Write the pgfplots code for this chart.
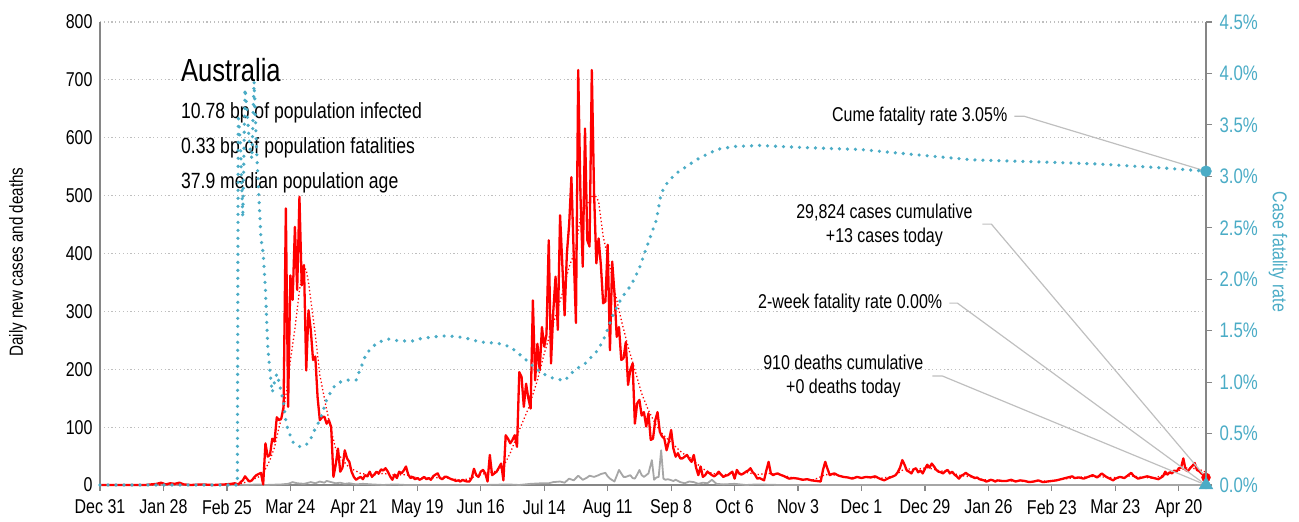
\documentclass[border=0pt]{standalone}
\usepackage{fontspec}
\setmainfont[FakeStretch=0.8]{Liberation Sans}
\usepackage{pgfplots}
\pgfplotsset{compat=1.18}
\definecolor{cfr}{HTML}{4BACC6}
\definecolor{axgray}{HTML}{868686}
\definecolor{gridgray}{HTML}{BFBFBF}
\definecolor{dgray}{HTML}{A6A6A6}
\definecolor{anngray}{HTML}{BFBFBF}
\newcommand\fs{\fontsize{20}{24}\selectfont}
\begin{document}
\begin{tikzpicture}
\useasboundingbox (0,0) rectangle (1299pt,522pt);
\begin{axis}[
  at={(100pt,37pt)}, anchor=south west,
  width=1106pt, height=463pt, scale only axis,
  xmin=0, xmax=488, ymin=0, ymax=800,
  axis x line*=bottom, axis y line*=left,
  axis line style={axgray, line width=1.2pt, -},
  xtick={0,28,56,84,112,140,168,196,224,252,280,308,336,364,392,420,448,476},
  xticklabels={Dec 31,Jan 28,Feb 25,Mar 24,Apr 21,May 19,Jun 16,Jul 14,Aug 11,Sep 8,Oct 6,Nov 3,Dec 1,Dec 29,Jan 26,Feb 23,Mar 23,Apr 20},
  ytick={0,100,200,300,400,500,600,700,800},
  ymajorgrids, grid style={gridgray, line width=1.2pt, dash pattern=on 1.2pt off 2.6pt},
  tick align=outside,
  x tick style={axgray, line width=1.2pt}, major tick length=6pt,
  y tick style={draw=none},
  tick label style={font=\fs, black},
  xticklabel style={yshift=-5pt},
  yticklabel style={xshift=2pt},
  /pgf/number format/assume math mode=true,
  clip=false,
]
% deaths
\addplot[dgray, line width=1.8pt, line join=round] coordinates {
(0,0)(60,0)(61,1)(64,0)(70,1)(73,0)(80,1)(83,2)(85,5)(87,3)(90,2)(93,5)(95,3)(97,6)(99,4)(100,7)(102,5)(104,3)(106,4)(108,2)(110,3)(113,1)(116,2)(120,1)(125,0)(130,1)(135,0)(170,0)(180,1)(185,0)(190,2)(195,3)(198,3)(200,5)(203,6)(205,4)(207,11)(209,8)(211,16)(213,9)(215,13)(216,16)(218,14)(220,17)(221,19)(223,21)(224,15)(225,11)(227,6)(229,26)(231,14)(232,14)(234,17)(235,12)(236,11)(237,18)(238,26)(239,17)(240,14)(241,17)(242,20)(243.5,43)(244.5,9)(245.5,13)(246.5,14)(247.6,60)(248.6,11)(249.5,9)(250.5,10)(251.5,9)(253,7)(254,9)(256,5)(258,3)(260,6)(262,5)(264,2)(266,4)(268,3)(270,9)(272,2)(275,1)(280,2)(285,0)(290,1)(300,0)(488,0)};
% 7-day average
\addplot[red, line width=1.3pt, dash pattern=on 1.3pt off 2.4pt] coordinates {
(0,0)(55,0.5)(62,2)(66,7)(70,14)(72,20)(75,43)(77,65)(79,100)(81,129)(83,180)(84,215)(86,270)(88,336)(89,360)(90,375)(91,372)(92,350)(93,320)(95,260)(97,190)(99,150)(100,130)(102,95)(104,62)(107,43)(110,30)(115,20)(120,17)(125,20)(130,17)(135,18)(140,12)(145,12)(150,13)(155,11)(160,8)(165,14)(170,20)(175,24)(178,32)(181,55)(185,95)(189,132)(193,181)(196,227)(200,279)(204,331)(207,377)(210,409)(212,465)(215,486)(218,504)(220,490)(222,430)(225,377)(227,337)(230,285)(233,239)(236,199)(239,158)(242,129)(245,106)(248,89)(251,77)(254,66)(257,55)(260,48)(263,38)(266,28)(270,20)(275,18)(280,18)(285,22)(290,18)(295,20)(300,18)(305,13)(310,10)(315,9)(320,18)(325,17)(330,13)(335,13)(340,13)(345,12)(350,15)(355,28)(360,27)(365,30)(370,25)(375,22)(380,16)(385,14)(390,9)(395,8)(400,7)(410,6)(420,7)(425,10)(430,13)(440,15)(445,13)(450,13)(455,16)(460,13)(465,12)(470,18)(475,24)(480,30)(485,27)(488,22)};
% daily cases
\addplot[red, line width=2.3pt, line join=round] coordinates {
(0,0)(20,0)(25,2)(27,4)(29,1)(31,3)(33,2)(35,4)(37,1)(40,0)(45,1)(50,0)(55,1)(58,2)(59.5,3)(61,1)(62,5)(63,8)(64,15)(65,10)(66,6)(67,8)(68,13)(69,17)(70,19)(71,21)(72,1)(73,72)(74,49)(75,52)(76,80)(77,75)(78,117)(79,112)(80,115)(81,135)(82,478)(83,135)(84,362)(85,320)(86,446)(87,337)(88,498)(89,345)(90,380)(91,198)(92,302)(93,268)(94,216)(95,222)(96,152)(97,112)(98,117)(99,118)(100,106)(101,112)(102,100)(103,14)(104,35)(105,63)(106,23)(107,30)(108,60)(109,46)(110,40)(111,23)(112,14)(113,9)(114,12)(115,14)(116,10)(117,17)(118,15)(119,23)(120,14)(121,18)(122,23)(123,20)(124,27)(125,25)(126,29)(127,23)(128,15)(129,9)(130,18)(131,12)(132,23)(133,20)(134,25)(135,32)(136,18)(137,12)(138,14)(139,10)(140,12)(141,9)(142,11)(143,14)(144,10)(145,12)(146,9)(147,15)(148,18)(149,20)(150,12)(151,10)(152,14)(153,14)(154,12)(155,10)(156,9)(157,7)(158,8)(159,6)(160,9)(161,7)(162,6)(163,6)(164,12)(165,28)(166,17)(167,14)(168,23)(169,26)(170,20)(171,6)(172,52)(173,17)(174,20)(175,23)(176,30)(177,37)(178,8)(179,86)(180,80)(181,72)(182,78)(183,86)(184,66)(185,195)(186,187)(187,135)(188,175)(189,150)(190,132)(191,319)(192,181)(193,244)(194,198)(195,273)(196,239)(197,260)(198,423)(199,210)(200,300)(201,360)(202,268)(203,466)(204,380)(205,293)(206,400)(207,450)(208,532)(209,400)(210,280)(211,717)(212,500)(213,377)(214,616)(215,423)(216,412)(217,717)(218,504)(219,383)(220,426)(221,380)(222,314)(223,317)(224,415)(225,233)(226,386)(227,331)(228,256)(229,273)(230,216)(231,219)(232,247)(233,173)(234,199)(235,210)(236,106)(237,141)(238,147)(239,120)(240,126)(241,101)(242,124)(243,78)(244,80)(245,112)(246,126)(247,92)(248,84)(249,80)(250,60)(251,75)(252,95)(253,63)(254,49)(255,55)(256,46)(257,46)(258,49)(259,52)(260,45)(261,40)(262,52)(263,30)(264,17)(265,32)(266,14)(267,17)(268,23)(269,20)(270,17)(271,15)(272,18)(273,23)(274,18)(275,14)(276,16)(277,17)(278,20)(279,23)(280,11)(281,26)(282,20)(283,18)(284,20)(285,23)(286,25)(287,29)(288,22)(289,18)(290,11)(291,12)(292,10)(293,8)(294,25)(295,40)(296,20)(297,17)(298,19)(299,20)(300,18)(302,15)(304,11)(306,12)(308,11)(310,9)(312,10)(314,8)(316,7)(318,6)(319,26)(320,40)(321,28)(322,17)(323,19)(324,20)(326,16)(328,14)(330,13)(332,11)(334,14)(336,12)(338,14)(340,13)(342,15)(344,11)(346,8)(348,12)(350,15)(351,17)(352,22)(353,30)(354,43)(355,35)(356,25)(357,23)(358,20)(359,27)(360,29)(361,22)(362,25)(363,20)(364,28)(365,35)(366,30)(367,37)(368,32)(369,26)(370,23)(371,22)(372,20)(373,24)(374,26)(375,20)(376,23)(377,18)(378,15)(379,11)(380,16)(381,18)(382,21)(383,18)(384,16)(385,14)(386,12)(387,13)(388,10)(389,9)(390,8)(391,6)(392,7)(393,9)(394,8)(395,6)(396,8)(398,7)(400,7)(402,9)(404,6)(406,8)(408,7)(410,5)(412,6)(414,8)(416,5)(418,6)(420,7)(422,8)(424,10)(426,12)(428,14)(429,15)(430,12)(432,13)(434,11)(436,14)(438,17)(440,13)(442,20)(444,14)(446,10)(447,8)(448,11)(450,14)(452,12)(454,18)(455,21)(456,16)(458,11)(460,13)(462,15)(463,14)(465,12)(467,10)(469,15)(470,23)(471,18)(472,22)(473,20)(474,25)(475,23)(476,29)(477,30)(478,46)(479,26)(480,24)(481,29)(482,33)(483,38)(484,26)(485,24)(486,20)(487,17)(488,13)};
\addplot[only marks, mark=*, mark size=4pt, dgray] coordinates {(488,0)};
\addplot[only marks, mark=*, mark size=4.5pt, red] coordinates {(488,13)};
% title block
\node[anchor=base west, inner sep=0pt, font=\fontsize{32}{36}\selectfont] at (axis cs:35.7,697) {Australia};
\node[anchor=base west, inner sep=0pt, font=\fontsize{22}{26}\selectfont] at (axis cs:35.7,634) {10.78 bp of population infected};
\node[anchor=base west, inner sep=0pt, font=\fontsize{22}{26}\selectfont] at (axis cs:35.7,573) {0.33 bp of population fatalities};
\node[anchor=base west, inner sep=0pt, font=\fontsize{22}{26}\selectfont] at (axis cs:35.7,512) {37.9 median population age};
% annotations
\node[anchor=east, font=\fs, inner sep=0pt] at (axis cs:400.4,637) {Cume fatality rate 3.05\%};
\draw[anngray, line width=1.2pt] (axis cs:403.4,637) -- (axis cs:407.9,637) -- (axis cs:488,542.2);
\node[align=center, font=\fs, inner sep=0pt] at (axis cs:346.1,449) {29,824 cases cumulative\\+13 cases today};
\draw[anngray, line width=1.2pt] (axis cs:389.3,450.8) -- (axis cs:393.3,450.8) -- (axis cs:488,13);
\node[anchor=east, font=\fs, inner sep=0pt] at (axis cs:371.7,314.3) {2-week fatality rate 0.00\%};
\draw[anngray, line width=1.2pt] (axis cs:374.8,314.3) -- (axis cs:378.3,314.3) -- (axis cs:488,0);
\node[align=center, font=\fs, inner sep=0pt] at (axis cs:328,188.3) {910 deaths cumulative\\+0 deaths today};
\draw[anngray, line width=1.2pt] (axis cs:367.3,188.3) -- (axis cs:371.7,188.3) -- (axis cs:488,0);
\end{axis}
\begin{axis}[
  at={(100pt,37pt)}, anchor=south west,
  width=1106pt, height=463pt, scale only axis,
  xmin=0, xmax=488, ymin=0, ymax=4.5,
  axis x line=none, axis y line*=right,
  axis line style={axgray, line width=1.2pt, -},
  ytick={0,0.5,1,1.5,2,2.5,3,3.5,4,4.5},
  yticklabels={0.0\%,0.5\%,1.0\%,1.5\%,2.0\%,2.5\%,3.0\%,3.5\%,4.0\%,4.5\%},
  tick align=outside, y tick style={axgray, line width=1.2pt}, major tick length=6pt,
  tick label style={font=\fontsize{21}{24}\selectfont, cfr},
  yticklabel style={xshift=4pt},
  clip=false,
]
\addplot[cfr, line width=3.6pt, line cap=round, dash pattern=on 0pt off 8pt] coordinates {
(0,0)(60.6,0)(61,3.6)(62,3.3)(63,2.6)(64,3.85)(65,3.6)(66,3.3)(67,3.17)(68,3.92)(69,3.3)(70,2.85)(71,2.4)(72,2.25)(73,1.9)(74,1.35)(75,1.1)(76,0.9)(77,1.0)(78,1.08)(79,1.0)(80,0.9)(81,0.8)(82,0.62)(83,0.53)(84,0.48)(85,0.42)(87,0.38)(89,0.37)(91,0.39)(93,0.45)(95,0.55)(97,0.63)(99,0.76)(100,0.83)(103,0.95)(106,1.0)(109,1.02)(113,1.02)(114,1.08)(115.5,1.16)(117.5,1.28)(120,1.33)(122,1.38)(127,1.42)(132,1.40)(138,1.40)(141,1.42)(147,1.44)(153,1.45)(158,1.44)(163,1.42)(167.5,1.39)(175.6,1.377)(181,1.344)(186,1.254)(190,1.176)(195,1.086)(200,1.037)(205,1.014)(209.4,1.118)(214,1.18)(219.7,1.31)(222.7,1.44)(226.3,1.65)(230,1.815)(234.4,1.944)(238,2.106)(241,2.30)(245.5,2.576)(247.6,2.835)(250.6,2.948)(254.3,3.03)(258.7,3.094)(263,3.159)(268,3.217)(272.6,3.263)(280,3.29)(291,3.30)(310,3.28)(336,3.26)(360,3.21)(385,3.16)(415,3.14)(440,3.12)(470,3.08)(488,3.05)};
\addplot[only marks, mark=*, mark size=5.5pt, cfr] coordinates {(488,3.05)};
\addplot[only marks, mark=triangle*, mark size=8pt, cfr] coordinates {(488,0)};
\end{axis}
\node[rotate=90, font=\fontsize{19}{22}\selectfont] at (18pt,260pt) {Daily new cases and deaths};
\node[rotate=-90, font=\fontsize{20}{24}\selectfont, cfr] at (1278pt,270pt) {Case fatality rate};
\end{tikzpicture}
\end{document}
